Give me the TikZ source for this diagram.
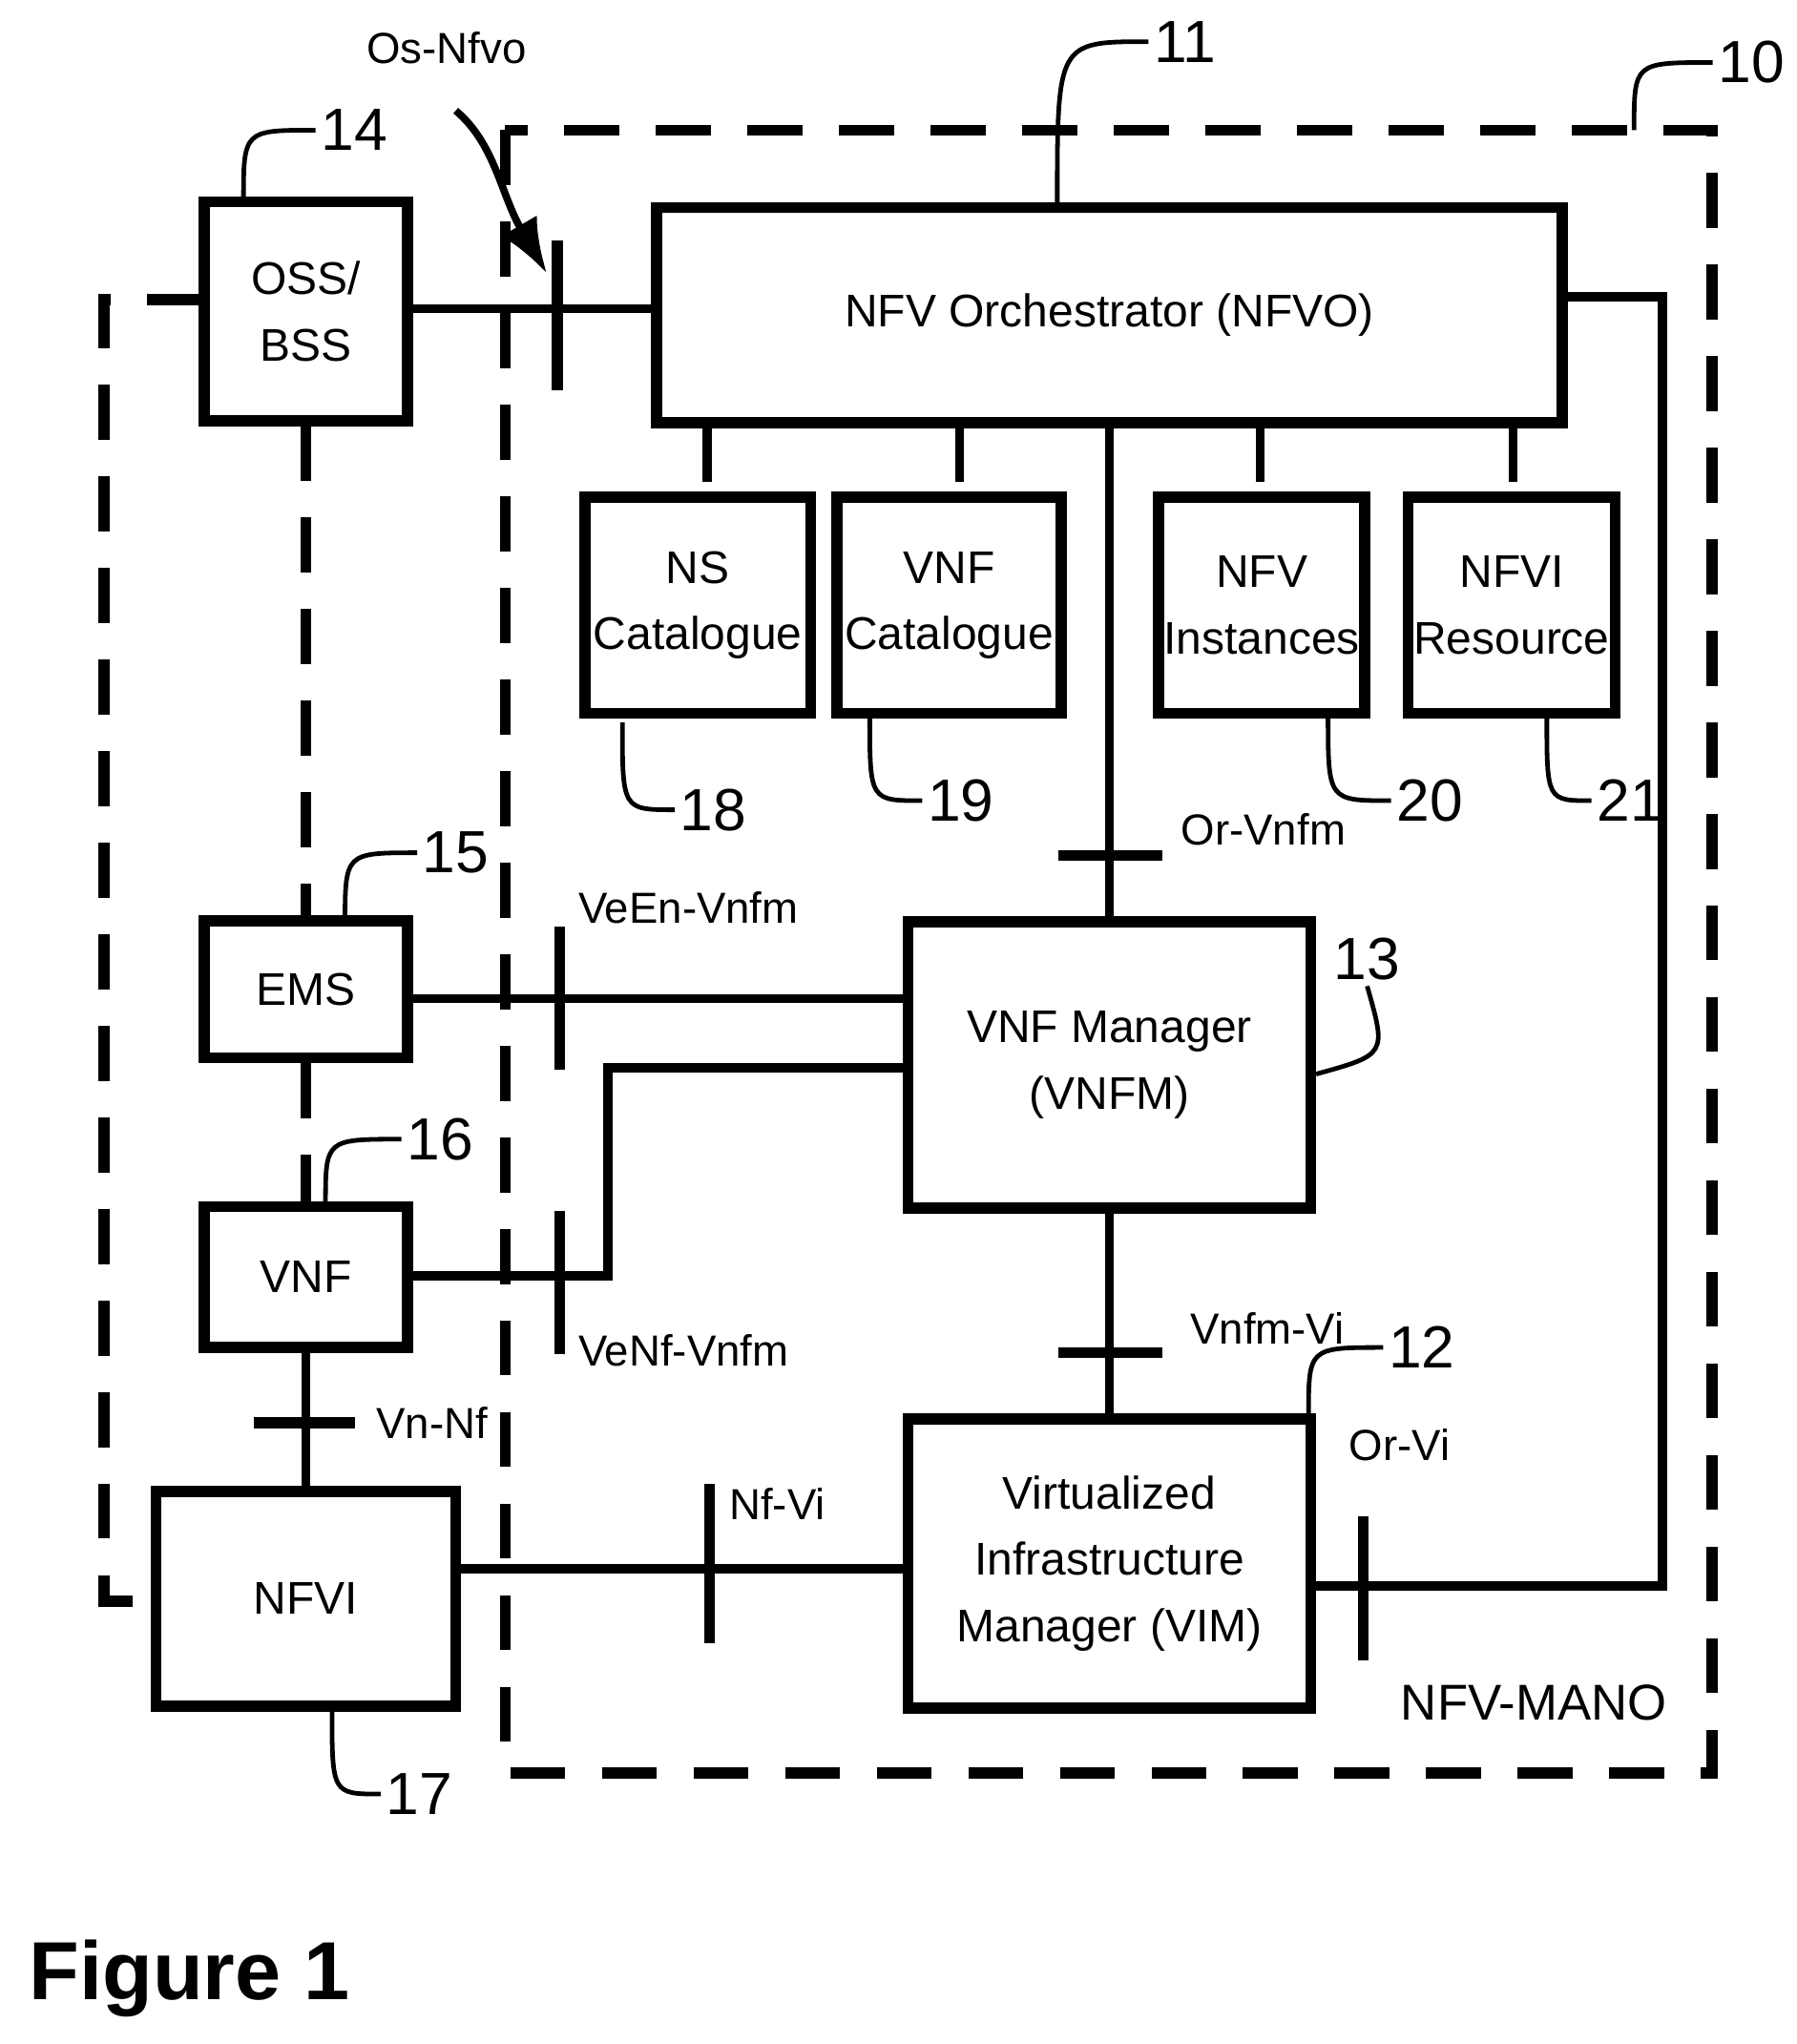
\documentclass[tikz,border=0pt]{standalone}
\usepackage{fontspec}
\setmainfont{Liberation Sans}
\usetikzlibrary{arrows.meta}
\tikzset{%
  blk/.style={draw,line width=2.4pt,align=center,inner sep=0pt,font=\fontsize{10}{14.5}\selectfont},
  lnk/.style={line width=2pt},
  tick/.style={line width=2.4pt},
  dsh/.style={line width=2.4pt,dash pattern=on 12pt off 8pt},
  lbl/.style={font=\fontsize{9.5}{11}\selectfont,inner sep=1pt},
  refn/.style={font=\fontsize{13}{15}\selectfont,inner sep=1pt},
  lead/.style={line width=1pt}
}
\begin{document}
\begin{tikzpicture}[x=0.01cm,y=-0.01cm]
  \useasboundingbox (0,0) rectangle (1380,1570);
  % dashed frames
  \draw[dsh] (388,100) rectangle (1315,1362);
  \draw[dsh] (155,230) -- (80,230) -- (80,1230) -- (118,1230);
  % blocks
  \node[blk,minimum width=1.56cm,minimum height=1.68cm] (oss) at (235,239) {OSS/\\BSS};
  \node[blk,minimum width=6.95cm,minimum height=1.65cm] (nfvo) at (852,242) {NFV Orchestrator (NFVO)};
  \node[blk,minimum width=1.73cm,minimum height=1.66cm] (nsc) at (536,465) {NS\\Catalogue};
  \node[blk,minimum width=1.72cm,minimum height=1.66cm] (vnfc) at (729,465) {VNF\\Catalogue};
  \node[blk,minimum width=1.58cm,minimum height=1.66cm] (nfvins) at (969,465) {NFV\\Instances};
  \node[blk,minimum width=1.59cm,minimum height=1.66cm] (nfvires) at (1161,465) {NFVI\\Resource};
  \node[blk,minimum width=3.09cm,minimum height=2.2cm] (vnfm) at (852,818) {VNF Manager\\(VNFM)};
  \node[blk,minimum width=3.09cm,minimum height=2.22cm] (vim) at (852,1201) {Virtualized\\Infrastructure\\Manager (VIM)};
  \node[blk,minimum width=1.56cm,minimum height=1.05cm] (ems) at (235,760) {EMS};
  \node[blk,minimum width=1.56cm,minimum height=1.08cm] (vnf) at (235,981) {VNF};
  \node[blk,minimum width=2.3cm,minimum height=1.65cm] (nfvi) at (235,1228) {NFVI};
  % connectors
  \draw[lnk] (oss.east|-0,237) -- (nfvo.west|-0,237);
  \foreach \n/\x in {nsc/543,vnfc/737,nfvins/968,nfvires/1162}
    \draw[lnk] (nfvo.south-|\x,0) -- (\x,370);
  \draw[lnk] (nfvo.south-|vnfm) -- (vnfm.north);
  \draw[lnk] (vnfm.south) -- (vim.north);
  \draw[lnk] (ems.east|-0,767) -- (vnfm.west|-0,767);
  \draw[lnk] (vnf.east|-0,980) -- (467,980) -- (467,820) -- (vnfm.west|-0,820);
  \draw[lnk] (nfvi.east|-0,1205) -- (vim.west|-0,1205);
  \draw[lnk] (vim.east|-0,1218) -- (1277,1218) -- (1277,228) -- (nfvo.east|-0,228);
  \draw[lnk] (vnf.south) -- (nfvi.north);
  \draw[dsh] (oss.south) -- (ems.north);
  \draw[dsh] (ems.south) -- (vnf.north);
  % reference points
  \draw[tick] (428,185) -- (428,300);
  \draw[tick] (813,657) -- (893,657);
  \draw[tick] (430,712) -- (430,822);
  \draw[tick] (430,930) -- (430,1040);
  \draw[tick] (813,1039) -- (893,1039);
  \draw[tick] (545,1140) -- (545,1262);
  \draw[tick] (1047,1165) -- (1047,1275);
  \draw[tick] (195,1093) -- (273,1093);
  \node[lbl] (osnfvo) at (343,37) {Os-Nfvo};
  \draw[line width=1.6pt,-{Latex[length=12pt]}] (350,85) .. controls (380,110) and (385,150) .. (420,210);
  \node[lbl,anchor=west] at (903,637) {Or-Vnfm};
  \node[lbl,anchor=west] at (440,697) {VeEn-Vnfm};
  \node[lbl,anchor=west] at (440,1037) {VeNf-Vnfm};
  \node[lbl,anchor=west] at (910,1020) {Vnfm-Vi};
  \node[lbl,anchor=west] at (556,1155) {Nf-Vi};
  \node[lbl,anchor=west] at (1032,1110) {Or-Vi};
  \node[lbl,anchor=west] at (285,1093) {Vn-Nf};
  \node[font=\fontsize{11}{13}\selectfont] at (1178,1308) {NFV-MANO};
  % reference numerals
  \foreach \px/\py/\nx/\ny/\t in {1255/100/1345/48/10,812/158/910/32/11,1005/1088/1092/1035/12,
      187/155/272/100/14,265/710/350/655/15,250/925/338/875/16}
    {\node[refn] (r\t) at (\nx,\ny) {\t};
     \draw[lead] (\px,\py) .. controls (\px,\ny) .. (r\t.west);}
  \foreach \px/\py/\nx/\ny/\t in {255/1312/322/1378/17,478/555/548/622/18,668/550/738/615/19,
      1020/550/1098/615/20,1188/550/1252/615/21}
    {\node[refn] (r\t) at (\nx,\ny) {\t};
     \draw[lead] (\px,\py) .. controls (\px,\ny) .. (r\t.west);}
  \node[refn] (r13) at (1050,737) {13};
  \draw[lead] (vnfm.east|-0,825) .. controls (1065,810) .. (r13.south);
  \node[font=\bfseries\fontsize{18}{21}\selectfont,anchor=west] at (10,1520) {Figure 1};
\end{tikzpicture}
\end{document}
